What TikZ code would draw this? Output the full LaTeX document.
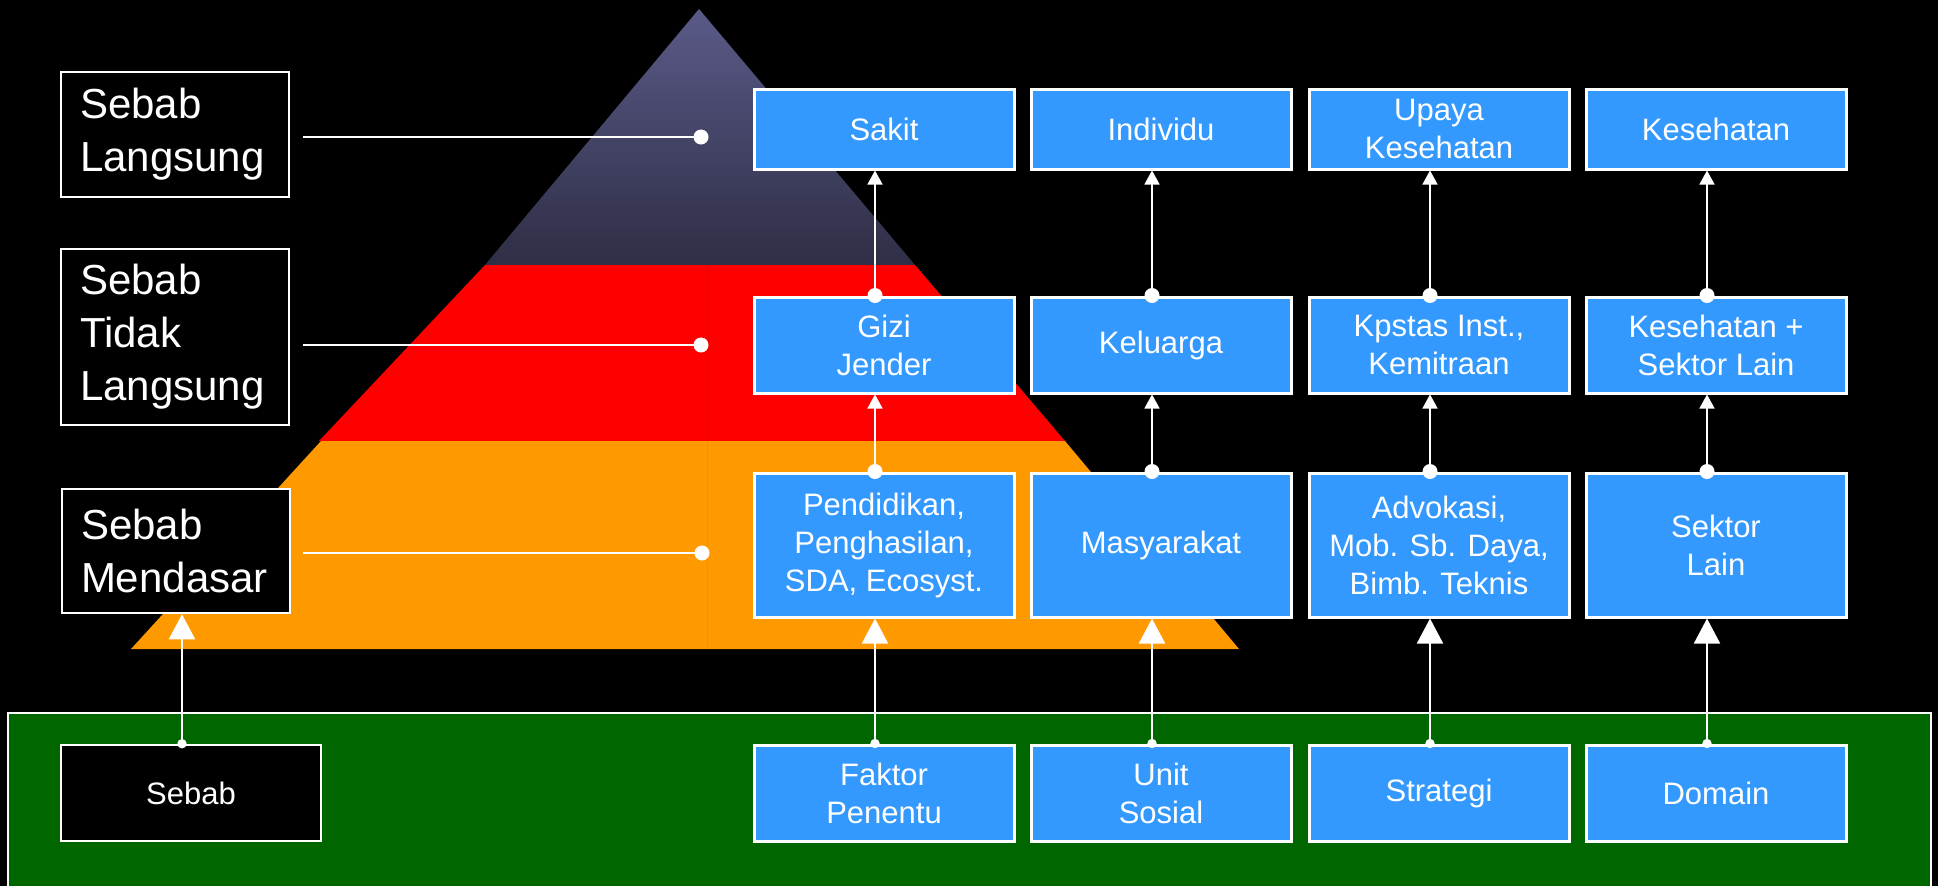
\documentclass[tikz,border=0pt]{standalone}
\usepackage{fontspec}
\setmainfont{Liberation Sans}
\usetikzlibrary{arrows.meta}
\definecolor{boxblue}{HTML}{3399FF}
\definecolor{pyrred}{HTML}{FF0000}
\definecolor{pyrorange}{HTML}{FF9900}
\definecolor{groundgreen}{HTML}{006600}
\definecolor{pyrtop}{HTML}{5A5A88}
\definecolor{pyrbot}{HTML}{2E2E46}
\definecolor{redseam}{HTML}{EE0000}
\definecolor{orangeseam}{HTML}{F29200}
\begin{document}
\begin{tikzpicture}[x=1pt,y=-1pt,
  bluebox/.style={draw=white, line width=3pt, fill=boxblue, text=white, minimum width=260pt,
    align=center, inner sep=0pt, font=\fontsize{31}{38}\selectfont},
  labelbox/.style={draw=white, line width=2.5pt, fill=black, text=white, text width=190pt,
    inner xsep=19pt, inner ysep=0pt, align=left, font=\fontsize{42}{53}\selectfont},
  blackbox/.style={draw=white, line width=2.5pt, fill=black, text=white, minimum width=260pt,
    align=center, inner sep=0pt, font=\fontsize{31}{38}\selectfont},
  leader/.style={draw=white, line width=2pt},
  upsmall/.style={draw=white, line width=1.5pt, -{Triangle[width=15pt,length=14pt]}},
  upbig/.style={draw=white, line width=1.8pt, -{Triangle[width=26pt,length=25pt]}},
]
\useasboundingbox (0,0) rectangle (1938,886);
\fill[black] (0,0) rectangle (1938,886);

% ground
\draw[fill=groundgreen, draw=white, line width=2pt] (8,713) rectangle (1931,900);

% pyramid
\shade[top color=pyrtop, bottom color=pyrbot] (699,9) -- (915,265) -- (485,265) -- cycle;
\fill[pyrred] (485,265) -- (915,265) -- (1065,441) -- (319,441) -- cycle;
\fill[pyrorange] (321,441) -- (1065,441) -- (1239,649) -- (131,649) -- cycle;
\draw[redseam, line width=0.8pt] (708,265) -- (708,441);
\draw[orangeseam, line width=0.8pt] (707,441) -- (707,649);

% left labels
\node[labelbox, minimum height=125pt] (lab1) at (175,134.5) {Sebab\\Langsung};
\node[labelbox, minimum height=176pt] (lab2) at (175,337) {Sebab\\Tidak\\Langsung};
\node[labelbox, minimum height=124pt] (lab3) at (176,551) {Sebab\\Mendasar};
\node[blackbox, minimum height=96pt] (sebab) at (191,793) {Sebab};

% leader lines
\coordinate (l1) at (303,137);
\coordinate (l2) at (303,345);
\coordinate (l3) at (303,553);
\coordinate (d1) at (701,137);
\coordinate (d2) at (701,345);
\coordinate (d3) at (702,553);
\draw[leader] (l1) -- (d1);
\draw[leader] (l2) -- (d2);
\draw[leader] (l3) -- (d3);
\foreach \d in {d1,d2,d3} \fill[white] (\d) circle (7.5pt);

% row 1
\node[bluebox, minimum height=80pt] (r11) at (884,129) {Sakit};
\node[bluebox, minimum height=80pt] (r12) at (1161,129) {Individu};
\node[bluebox, minimum height=80pt] (r13) at (1439,129) {Upaya\\Kesehatan};
\node[bluebox, minimum height=80pt] (r14) at (1716,129) {Kesehatan};
% row 2
\node[bluebox, minimum height=96pt] (r21) at (884,345) {Gizi\\Jender};
\node[bluebox, minimum height=96pt] (r22) at (1161,345) {Keluarga};
\node[bluebox, minimum height=96pt] (r23) at (1439,345) {Kpstas Inst.,\\Kemitraan};
\node[bluebox, minimum height=96pt] (r24) at (1716,345) {Kesehatan +\\Sektor Lain};
% row 3
\node[bluebox, minimum height=144pt] (r31) at (884,545) {Pendidikan,\\Penghasilan,\\SDA, Ecosyst.};
\node[bluebox, minimum height=144pt] (r32) at (1161,545) {Masyarakat};
\node[bluebox, minimum height=144pt] (r33) at (1439,545) {Advokasi,\\Mob. Sb. Daya,\\Bimb. Teknis};
\node[bluebox, minimum height=144pt] (r34) at (1716,545) {Sektor\\Lain};
% row 4
\node[bluebox, minimum height=96pt] (r41) at (884,793) {Faktor\\Penentu};
\node[bluebox, minimum height=96pt] (r42) at (1161,793) {Unit\\Sosial};
\node[bluebox, minimum height=96pt] (r43) at (1439,793) {Strategi};
\node[bluebox, minimum height=96pt] (r44) at (1716,793) {Domain};

% arrows
\foreach \c in {1,2,3,4} {
  \draw[upsmall] ([xshift=-9pt]r2\c.north) -- ([xshift=-9pt]r1\c.south);
  \fill[white] ([xshift=-9pt]r2\c.north) circle (7.5pt);
  \draw[upsmall] ([xshift=-9pt]r3\c.north) -- ([xshift=-9pt]r2\c.south);
  \fill[white] ([xshift=-9pt]r3\c.north) circle (7.5pt);
  \draw[upbig] ([xshift=-9pt]r4\c.north) -- ([xshift=-9pt]r3\c.south);
  \fill[white] ([xshift=-9pt]r4\c.north) circle (4.7pt);
}
\coordinate (sa) at ([xshift=-9pt]sebab.north);
\draw[upbig] (sa) -- (sa |- lab3.south);
\fill[white] (sa) circle (4.7pt);
\end{tikzpicture}
\end{document}
